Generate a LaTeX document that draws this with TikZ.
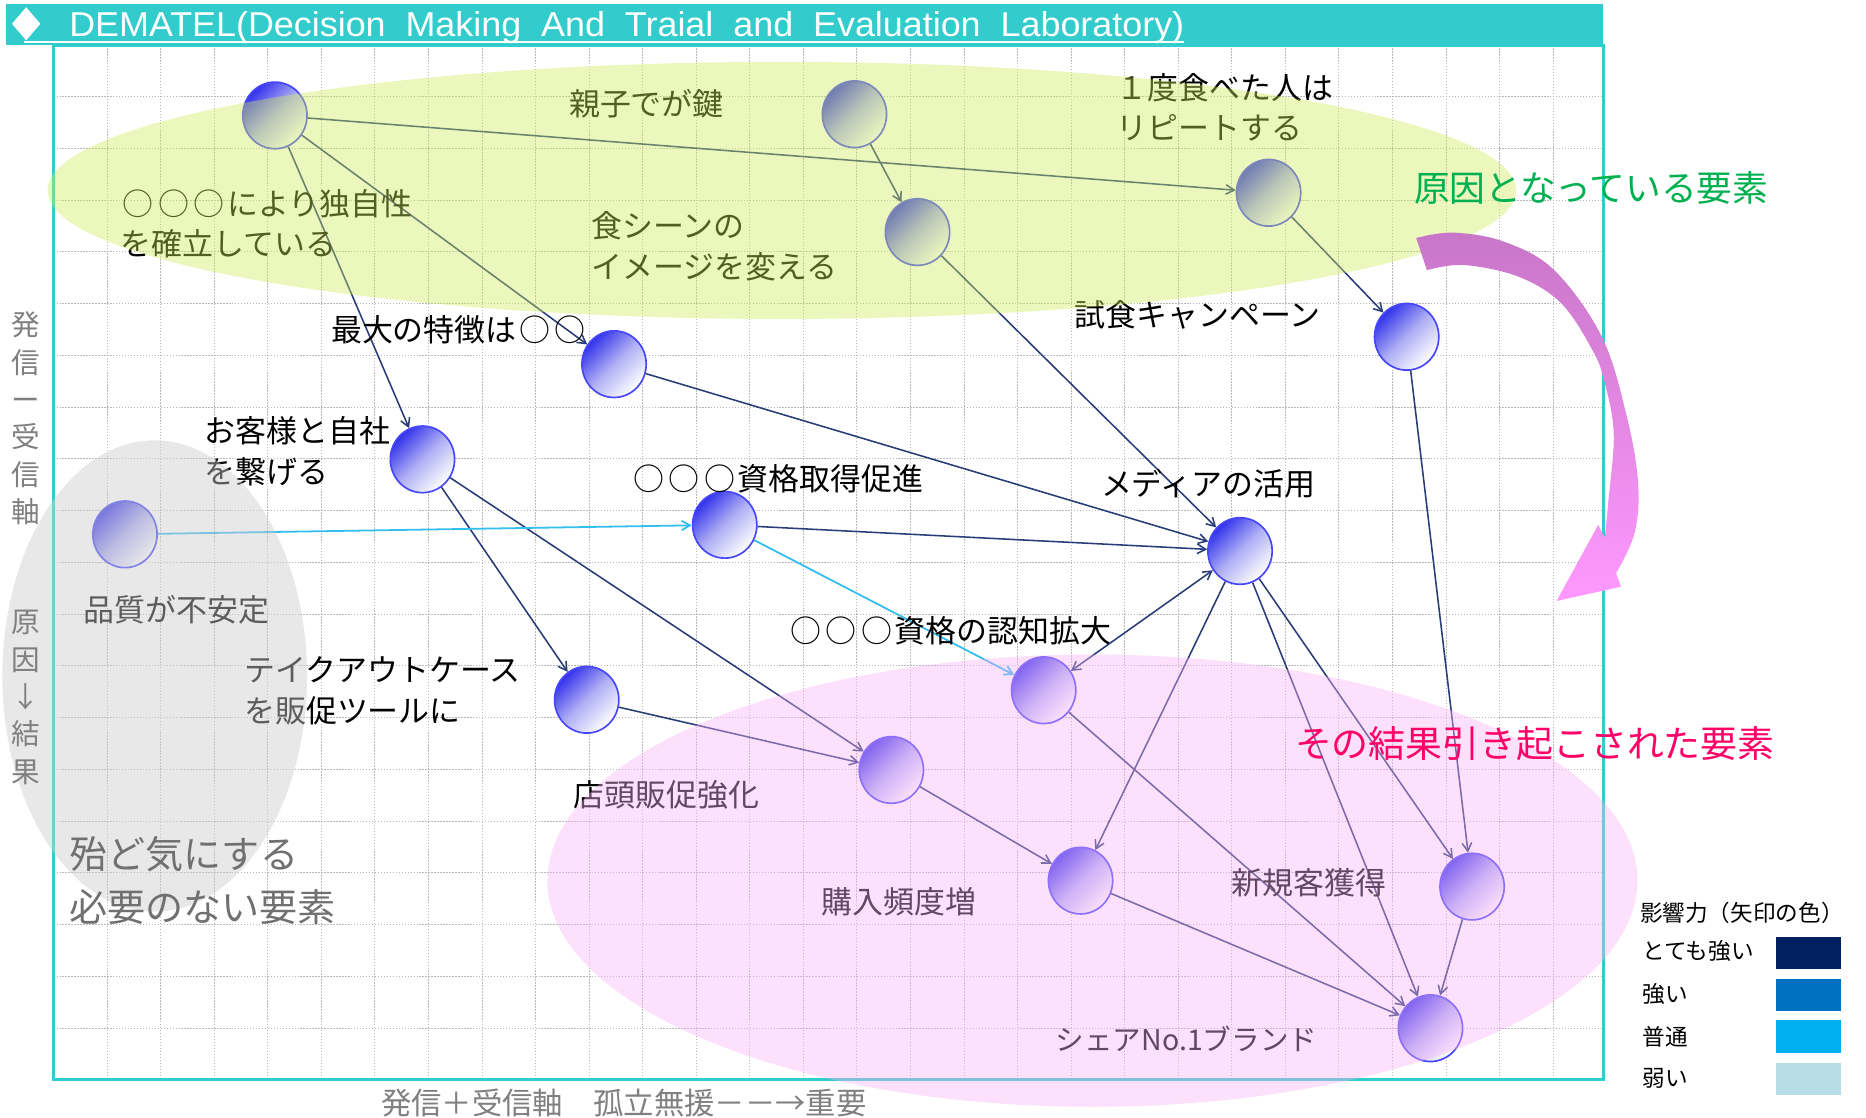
\documentclass[tikz,border=0pt]{standalone}
\usepackage{fontspec}
\setmainfont{Noto Sans CJK JP}
\newfontfamily\latinfont{Liberation Sans}
\usetikzlibrary{arrows.meta,shapes.geometric}
\newcommand\maruc{\makebox[1.15em]{○}}
\definecolor{tealbar}{RGB}{51,204,204}
\definecolor{gridc}{RGB}{185,185,185}
\definecolor{arrc}{RGB}{40,60,120}
\definecolor{arrl}{RGB}{51,190,240}
\definecolor{greenov}{RGB}{207,237,92}
\definecolor{pinkov}{RGB}{250,178,247}
\definecolor{greyov}{RGB}{205,205,205}
\definecolor{nodeblue}{RGB}{50,50,235}
\definecolor{nodemid}{RGB}{175,175,245}
\definecolor{nodeedge}{RGB}{70,70,250}
\definecolor{pkA}{RGB}{200,118,200}
\definecolor{pkB}{RGB}{255,153,255}
\definecolor{txgreen}{RGB}{0,176,80}
\definecolor{txpink}{RGB}{255,0,102}
\definecolor{txgrey}{RGB}{112,112,112}
\definecolor{axgrey}{RGB}{128,128,128}
\definecolor{lg1}{RGB}{0,32,96}
\definecolor{lg2}{RGB}{0,112,192}
\definecolor{lg3}{RGB}{0,176,240}
\definecolor{lg4}{RGB}{183,222,232}
\tikzset{
  gridline/.style={draw=gridc, line width=0.7pt, dash pattern=on 1.2pt off 1.3pt},
  elem/.style={ellipse, minimum width=54pt, minimum height=56pt, inner sep=0pt,
    draw=nodeedge, line width=1.4pt, top color=nodeblue, bottom color=white,
    middle color=nodemid, shading angle=45},
  arr/.style={draw=arrc, line width=1.3pt, -{Straight Barb[length=7pt,width=8pt]}},
  arrlight/.style={draw=arrl, line width=1.5pt, -{Straight Barb[length=7pt,width=8pt]}},
  lbl/.style={inner sep=0pt, anchor=west, align=left, font=\fontsize{26}{34}\selectfont, text=black},
  axlbl/.style={inner sep=0pt, text=axgrey, font=\fontsize{24}{31.4}\selectfont},
  leg/.style={inner sep=0pt, anchor=west, font=\fontsize{19}{22}\selectfont, text=black},
  legbox/.style={minimum width=55pt, minimum height=28pt, inner sep=0pt, draw=white, line width=0.8pt},
}
\begin{document}
\begin{tikzpicture}[x=1pt,y=-1pt]
\useasboundingbox (0,0) rectangle (1568,939);
\fill[white] (0,0) rectangle (1568,939);
% grid
\foreach \i in {1,...,28} {\draw[gridline] ({45+45*\i},38) -- ({45+45*\i},907);}
\foreach \j in {1,...,19} {\draw[gridline] (45,{37.5+43.5*\j}) -- (1347,{37.5+43.5*\j});}
% frame
\draw[tealbar, line width=2.5pt] (45,38) rectangle (1347,907);
% title bar
\fill[tealbar] (5,3) rectangle (1347,38);
\node[diamond, fill=white, minimum width=24pt, minimum height=28pt, inner sep=0pt] (dia) at (22,20) {};
\node[anchor=base west, inner sep=0pt, text=white] (title) at (58,31)
  {\resizebox{937pt}{21pt}{\latinfont DEMATEL(Decision\ \ Making\ \ And\ \ Traial\ \ and\ \ Evaluation\ \ Laboratory)}};
\draw[white, line width=1.5pt] (20,35.5) -- (995,35.5);
% nodes
\node[elem] (n1) at (231,97) {};
\node[elem] (n2) at (718,96) {};
\node[elem] (n3) at (771,195) {};
\node[elem] (n4) at (1066,162) {};
\node[elem] (n5) at (1182,283) {};
\node[elem] (n6) at (516,306) {};
\node[elem] (n7) at (355,386) {};
\node[elem] (n8) at (105,449) {};
\node[elem] (n9) at (609,441) {};
\node[elem] (n10) at (1042,463) {};
\node[elem] (n11) at (877,580) {};
\node[elem] (n12) at (493,588) {};
\node[elem] (n13) at (749,647) {};
\node[elem] (n14) at (908,740) {};
\node[elem] (n15) at (1237,745) {};
\node[elem] (n16) at (1202,864) {};
% connectors
\draw[arr] (n1) -- (n4);
\draw[arr] (n1) -- (n6);
\draw[arr] (n1) -- (n7);
\draw[arr] (n2) -- (n3);
\draw[arr] (n3) -- (n10);
\draw[arr] (n4) -- (n5);
\draw[arr] (n5) -- (n15);
\draw[arr] (n6) -- (n10);
\draw[arr] (n7) -- (n12);
\draw[arr] (n7) -- (n13);
\draw[arrlight] (n8) -- (n9);
\draw[arr] (n9) -- (n10);
\draw[arrlight] (n9) -- (n11);
\draw[arr, {Straight Barb[length=7pt,width=8pt]}-{Straight Barb[length=7pt,width=8pt]}] (n11) -- (n10);
\draw[arr] (n10) -- (n14);
\draw[arr] (n10) -- (n16);
\draw[arr] (n10) -- (n15);
\draw[arr] (n11) -- (n16);
\draw[arr] (n12) -- (n13);
\draw[arr] (n13) -- (n14);
\draw[arr] (n14) -- (n16);
\draw[arr] (n15) -- (n16);
% labels
\node[lbl] (l1) at (101,188) {\maruc\maruc\maruc により独自性\\を確立している};
\node[lbl] (l2) at (478,87) {親子でが鍵};
\node[lbl] (l3) at (497,207) {食シーンの\\イメージを変える};
\node[lbl] (l4) at (938,90) {１度食べた人は\\リピートする};
\node[lbl] (l5) at (903,265) {試食キャンペーン};
\node[lbl] (l6) at (278,277) {最大の特徴は\maruc\maruc};
\node[lbl] (l7) at (172,379) {お客様と自社\\を繋げる};
\node[lbl] (l8) at (70,512) {品質が不安定};
\node[lbl] (l9) at (530,402) {\maruc\maruc\maruc 資格取得促進};
\node[lbl] (l10) at (925,406) {メディアの活用};
\node[lbl] (l11) at (662,530) {\maruc\maruc\maruc 資格の認知拡大};
\node[lbl] (l12) at (205,580.5) {テイクアウトケース\\を販促ツールに};
\node[lbl] (l13) at (482,668) {店頭販促強化};
\node[lbl] (l14) at (690,758) {購入頻度増};
\node[lbl] (l15) at (1035,742) {新規客獲得};
\node[lbl, font=\fontsize{24}{30}\selectfont] (l16) at (887,873) {シェアNo.1ブランド};
% overlay regions
\fill[greyov, opacity=0.45] (130,568) ellipse [x radius=128, y radius=198];
\fill[greenov, opacity=0.4] (657,160) ellipse [x radius=617, y radius=108];
\fill[pinkov, opacity=0.4] (918,740) ellipse [x radius=458, y radius=190];
% curved pink arrow
\shade[top color=pkA, bottom color=pkB]
  plot[smooth, tension=0.6] coordinates {(1190,200) (1221,195.5) (1263.5,203) (1306,227) (1346,283) (1367,350) (1376.5,406) (1373.5,448) (1358,481.6)}
  -- (1362,493) -- (1308,505) -- (1343,441)
  -- plot[smooth, tension=0.6] coordinates {(1348.5,452) (1351.5,421) (1356,364) (1348,320) (1338,294) (1312,255) (1276,232.5) (1230,222.7) (1199,227)}
  -- cycle;
% region texts
\node[inner sep=0pt, anchor=west, text=txgreen, font=\fontsize{30}{34}\selectfont] (tg) at (1188,158) {原因となっている要素};
\node[inner sep=0pt, anchor=west, text=txpink, font=\fontsize{31}{34}\selectfont] (tp) at (1088,625) {その結果引き起こされた要素};
\node[inner sep=0pt, anchor=west, align=left, text=txgrey, font=\fontsize{32}{44}\selectfont] (tq) at (58,740) {殆ど気にする\\必要のない要素};
% axis labels
\node[axlbl, align=center] (ya) at (22,351.5) {発\\信\\ー\\受\\信\\軸};
\node[axlbl, align=center] (yb) at (22,586) {原\\因\\↓\\結\\果};
\node[axlbl, anchor=west, font=\fontsize{25.5}{30}\selectfont] (xa) at (320,927) {発信＋受信軸　孤立無援－－→重要};
% legend
\node[leg] (lgt) at (1378,767) {影響力（矢印の色）};
\node[leg] (lgs1) at (1380,799) {とても強い};
\node[leg] (lgs2) at (1380,835) {強い};
\node[leg] (lgs3) at (1380,871) {普通};
\node[leg] (lgs4) at (1380,906) {弱い};
\node[legbox, fill=lg1] (b1) at (1519.5,800.5) {};
\node[legbox, fill=lg2] (b2) at (1519.5,836) {};
\node[legbox, fill=lg3] (b3) at (1519.5,871) {};
\node[legbox, fill=lg4] (b4) at (1519.5,906.5) {};
\end{tikzpicture}
\end{document}
